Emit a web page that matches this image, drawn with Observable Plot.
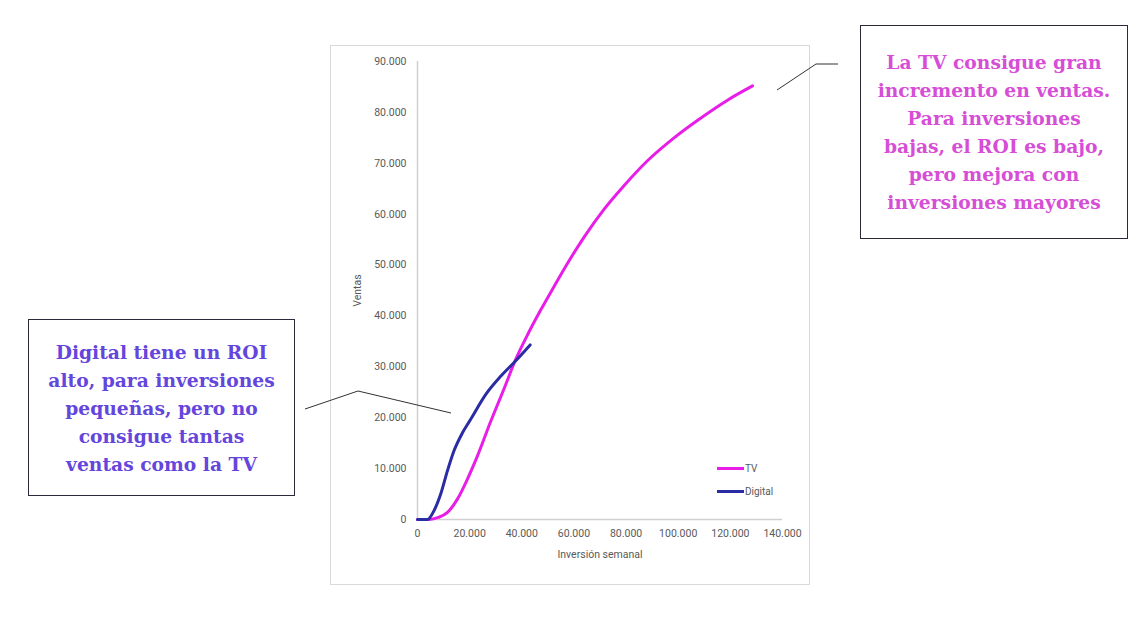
<!DOCTYPE html>
<html>
<head>
<meta charset="utf-8">
<script src="https://cdn.jsdelivr.net/npm/d3@7"></script>
<script src="https://cdn.jsdelivr.net/npm/@observablehq/plot@0.6"></script>
<style>
  html, body { margin: 0; padding: 0; background: #ffffff; }
  #page { position: relative; width: 1148px; height: 617px; overflow: hidden; background: #fff; }
  #frame { position: absolute; left: 330px; top: 45px; width: 478px; height: 538px; border: 1px solid #d9d9d9; box-sizing: content-box; }
  #chart { position: absolute; left: 0; top: 0; }
  .box { position: absolute; border: 1px solid #2a2a3a; background: #fff; box-sizing: border-box;
         display: flex; align-items: center; justify-content: center; text-align: center;
         font-family: "DejaVu Serif", serif; font-weight: bold; font-size: 18.7px; line-height: 28px; }
  #boxL { left: 28px; top: 319px; width: 267px; height: 177px; color: #6446dc; }
  #boxR { left: 860px; top: 25px; width: 268px; height: 214px; color: #d64ed6; }
  .leg { position: absolute; font-family: Roboto, sans-serif; font-size: 10px; color: #595959; display: flex; align-items: center; }
  .leg span.sw { display: inline-block; width: 27px; height: 3px; margin-right: 1px; }
  #leaders { position: absolute; left: 0; top: 0; }
</style>
</head>
<body>
<div id="page">
  <div id="frame"></div>
  <div id="chart"></div>
  <div class="leg" id="legTV" style="left:717px; top:463px;"><span class="sw" id="swTV"></span><span id="lbTV"></span></div>
  <div class="leg" id="legDG" style="left:717px; top:486px;"><span class="sw" id="swDG"></span><span id="lbDG"></span></div>
  <svg id="leaders" width="1148" height="617">
    <polyline points="305,409 358,391 451,413" fill="none" stroke="#333" stroke-width="1"/>
    <polyline points="777,90 816,64 838,64" fill="none" stroke="#333" stroke-width="1"/>
  </svg>
  <div class="box" id="boxL"><div>Digital tiene un ROI<br>alto, para inversiones<br>pequeñas, pero no<br>consigue tantas<br>ventas como la TV</div></div>
  <div class="box" id="boxR"><div>La TV consigue gran<br>incremento en ventas.<br>Para inversiones<br>bajas, el ROI es bajo,<br>pero mejora con<br>inversiones mayores</div></div>
</div>
<script>
// Series (inversión semanal, ventas)
const seriesNames = ["TV", "Digital"];
const seriesColors = ["#e81ee8", "#2b2ba3"];

const tvX = [0, 4500, 8000, 11500, 15300, 19200, 23000, 28100, 33200, 37700, 42500, 47300, 52400, 57500, 63900, 71600, 79200, 88200, 98400, 108700, 118900, 128500];
const tvY = [0, 0, 400, 1400, 4000, 8000, 12500, 19300, 25700, 31500, 36600, 41200, 45800, 50300, 55500, 61000, 65600, 70500, 75000, 78900, 82400, 85200];

const digX = [0, 3800, 6400, 8900, 11500, 14000, 17200, 20400, 26200, 32000, 37700, 43200];
const digY = [0, 0, 1800, 5000, 9600, 13500, 17000, 19700, 24600, 28200, 31200, 34300];

const xTicks = [0, 20000, 40000, 60000, 80000, 100000, 120000, 140000];
const yTicks = [0, 10000, 20000, 30000, 40000, 50000, 60000, 70000, 80000, 90000];

const xLabel = "Inversión semanal";
const yLabel = "Ventas";

const fmt = d => d3.format(",")(d).replace(/,/g, ".");

const rows = [
  ...tvX.map((x, i) => ({serie: seriesNames[0], x, y: tvY[i]})),
  ...digX.map((x, i) => ({serie: seriesNames[1], x, y: digY[i]}))
];

const axisColor = "#d0d0d0";

const chart = Plot.plot({
  width: 1148,
  height: 617,
  marginLeft: 417,
  marginRight: 366,
  marginTop: 61,
  marginBottom: 98,
  style: { fontFamily: "Roboto, sans-serif", fontSize: "10.5px", color: "#595959", background: "transparent", overflow: "visible" },
  x: { domain: [0, 140000] },
  y: { domain: [0, 90000] },
  color: { domain: seriesNames, range: seriesColors },
  marks: [
    Plot.ruleX([0], { stroke: axisColor, strokeWidth: 1.5 }),
    Plot.ruleY([0], { stroke: axisColor, strokeWidth: 1.5 }),
    Plot.axisX({ ticks: xTicks, tickFormat: fmt, tickSize: 0, tickPadding: 10, label: xLabel, labelAnchor: "center", labelArrow: "none", labelOffset: 38, fontSize: 10.5 }),
    Plot.axisY({ ticks: yTicks, tickFormat: fmt, tickSize: 0, tickPadding: 11, label: yLabel, labelAnchor: "center", labelArrow: "none", labelOffset: 64, fontSize: 10.5 }),
    Plot.line(rows.filter(d => d.serie === seriesNames[0]), { x: "x", y: "y", stroke: "serie", strokeWidth: 3, curve: "monotone-x" }),
    Plot.line(rows.filter(d => d.serie === seriesNames[1]), { x: "x", y: "y", stroke: "serie", strokeWidth: 3, curve: "monotone-x" })
  ]
});
document.getElementById("chart").appendChild(chart);

document.getElementById("swTV").style.background = seriesColors[0];
document.getElementById("swDG").style.background = seriesColors[1];
document.getElementById("lbTV").textContent = seriesNames[0];
document.getElementById("lbDG").textContent = seriesNames[1];
</script>
</body>
</html>
